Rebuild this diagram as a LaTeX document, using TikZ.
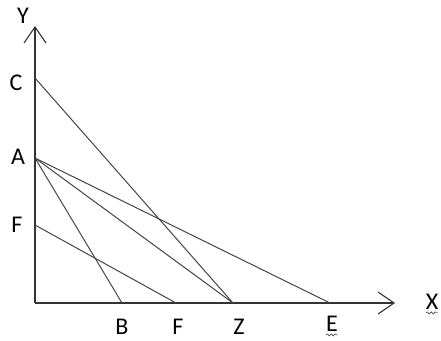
\documentclass[tikz,border=0pt]{standalone}
\usepackage{fontspec}
\setmainfont{Carlito}
\usepackage{xcolor}
\usetikzlibrary{arrows.meta,decorations.pathmorphing}
\definecolor{axisGray}{HTML}{333333}
\definecolor{lineGray}{HTML}{444444}

\begin{document}
\begin{tikzpicture}[x=1pt, y=-1pt,
    lbl/.style={font=\fontsize{24}{24}\selectfont, text=black, inner sep=0pt},
    axis/.style={axisGray, line width=1.5pt, -{Straight Barb[length=16pt, width=22pt, line width=1.1pt]}},
    budget/.style={lineGray, line width=1pt},
    squiggle/.style={black!70, line width=0.6pt, decorate,
      decoration={snake, amplitude=1pt, segment length=4pt}}]
  \useasboundingbox (0,0) rectangle (441,340);

  % origin and axis ends
  \coordinate (O) at (35,303);
  \coordinate (Ytop) at (35,26);
  \coordinate (Xend) at (395,303);

  % intercepts on the Y axis
  \coordinate (C) at (35,78);
  \coordinate (A) at (35,158);
  \coordinate (Fy) at (35,225);

  % intercepts on the X axis
  \coordinate (B) at (122,303);
  \coordinate (Fx) at (176,303);
  \coordinate (Z) at (233,303);
  \coordinate (E) at (330,303);

  % axes
  \draw[axis] (O) -- (Ytop);
  \draw[axis] (O) -- (Xend);

  % lines
  \draw[budget] (C) -- (Z);
  \draw[budget] (A) -- (B);
  \draw[budget] (A) -- (Z);
  \draw[budget] (A) -- (E);
  \draw[budget] (Fy) -- (Fx);

  % labels
  \node[lbl] (labY) at (23,16) {Y};
  \node[lbl] (labC) at (16,83) {C};
  \node[lbl] (labA) at (18,157) {A};
  \node[lbl] (labFy) at (17,225) {F};
  \node[lbl] (labB) at (122,327) {B};
  \node[lbl] (labFx) at (178,327) {F};
  \node[lbl] (labZ) at (239,327) {Z};
  \node[lbl] (labE) at (332,324) {E};
  \node[lbl] (labX) at (432,302) {X};

  % spell-check marks
  \draw[squiggle] ([xshift=-6pt, yshift=-3pt]labE.south) -- ([xshift=6pt, yshift=-3pt]labE.south);
  \draw[squiggle] ([xshift=-6pt, yshift=-3pt]labX.south) -- ([xshift=6pt, yshift=-3pt]labX.south);
\end{tikzpicture}
\end{document}
